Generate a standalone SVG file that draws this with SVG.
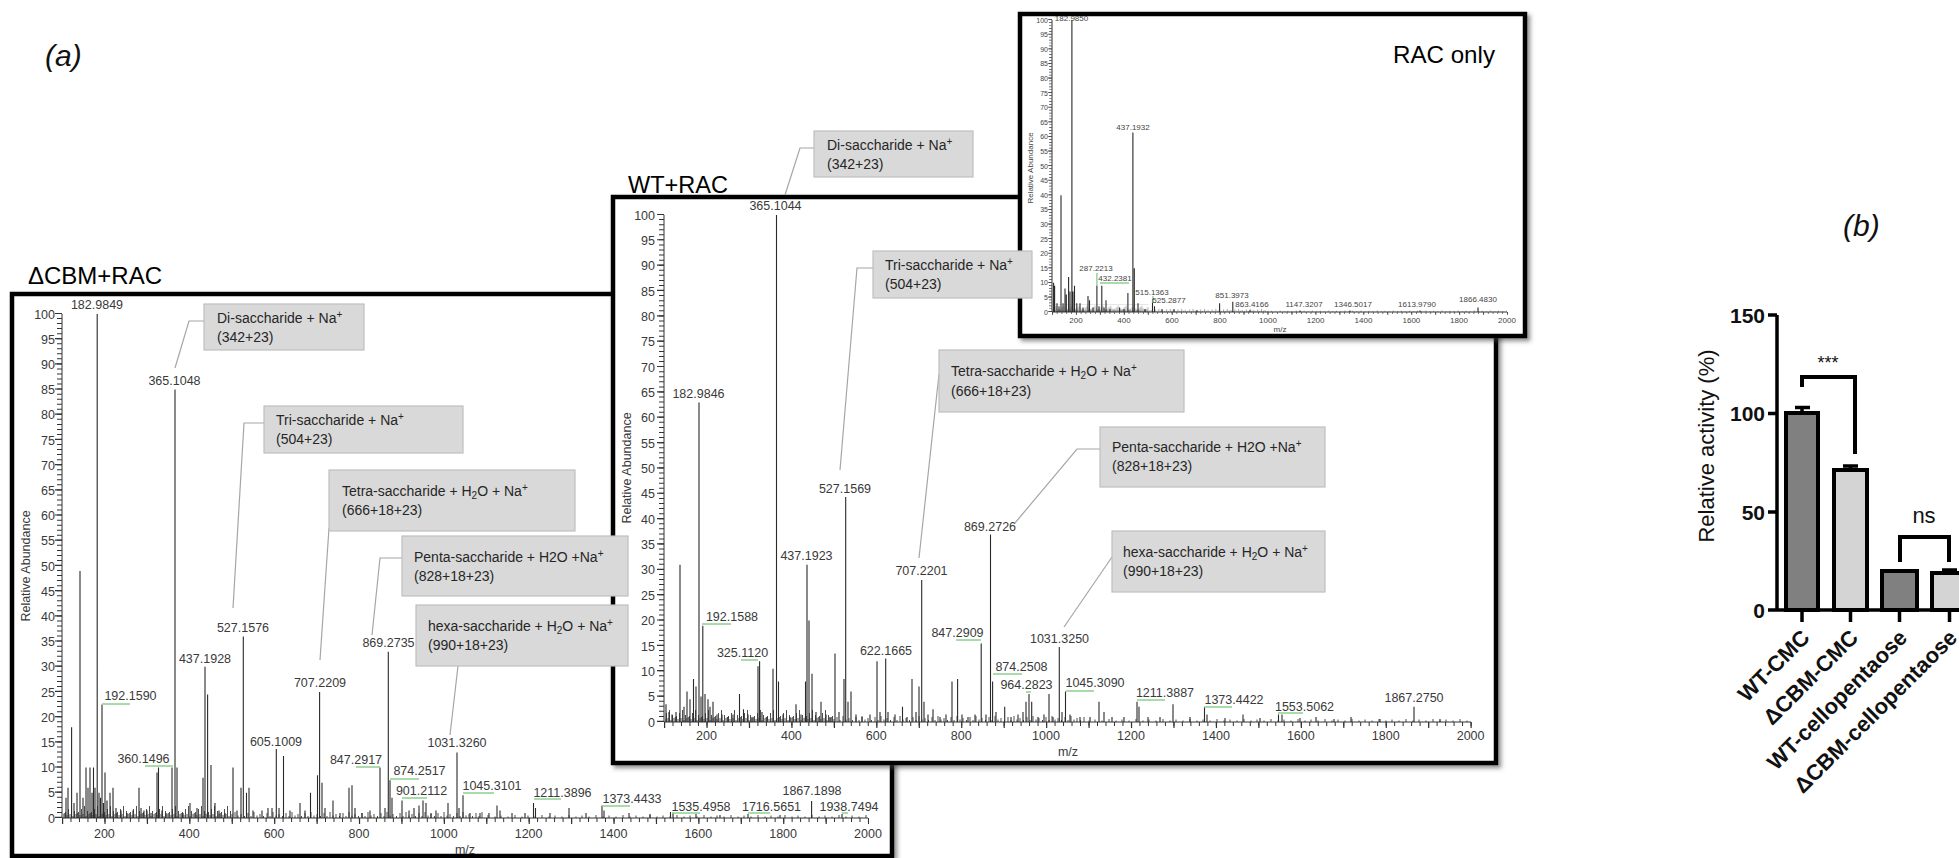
<svg xmlns="http://www.w3.org/2000/svg" width="1959" height="858" viewBox="0 0 1959 858">
<defs>
<style>
text{font-family:"Liberation Sans",Arial,sans-serif}
.lbl{font-size:12.5px;fill:#3a3a3a;text-anchor:middle}
.tk{font-size:12.5px;fill:#3a3a3a;text-anchor:end}
.xt{font-size:12.5px;fill:#3a3a3a;text-anchor:middle}
.s7{font-size:7px;fill:#444;text-anchor:end}
.s8{font-size:8px;fill:#444;text-anchor:middle}
.head{font-size:24px;fill:#000}
.frame{fill:#fff;stroke:#000;stroke-width:4.5}
.spec{stroke:#2a2a2a;stroke-width:1.1;fill:none}
.ax{stroke:#333;stroke-width:1;fill:none}
.grn{stroke:#8fd08f;stroke-width:1.4;fill:none}
.lead{stroke:#a6a6a6;stroke-width:1.2;fill:none}
.co rect{fill:#d9d9d9;stroke:#bfbfbf;stroke-width:1.2}
.co text{font-size:14px;fill:#262626}
.sb{font-size:10px}
.bar{stroke:#000;stroke-width:4}
.bk{stroke:#000;stroke-width:3.5;fill:none}
.bt{font-size:21px;font-weight:bold;fill:#111;text-anchor:end}
.bc{font-size:22px;font-weight:bold;fill:#111;text-anchor:end}
</style>
<filter id="sh" x="-5%" y="-5%" width="110%" height="110%">
<feDropShadow dx="3" dy="3" stdDeviation="2" flood-color="#444" flood-opacity="0.6"/>
</filter>
<pattern id="nA" x="0" y="0" width="13" height="15" patternUnits="userSpaceOnUse">
<path d="M0.5 15v-6M2 15v-3M3.5 15v-9M5 15v-4M6.5 15v-12M8 15v-2M9.5 15v-7M11 15v-4M12.3 15v-5" stroke="#222" stroke-width="0.8"/>
</pattern>
<pattern id="nB" x="0" y="0" width="19" height="15" patternUnits="userSpaceOnUse">
<path d="M1 15v-5M4 15v-2M7 15v-6M10 15v-2.5M13 15v-4M16.5 15v-2" stroke="#222" stroke-width="0.8"/>
</pattern>
<pattern id="nC" x="0" y="0" width="27" height="15" patternUnits="userSpaceOnUse">
<path d="M2 15v-3M9 15v-1.5M15 15v-2.5M22 15v-1.5" stroke="#222" stroke-width="0.8"/>
</pattern>
</defs>
<rect width="1959" height="858" fill="#fff"/>
<text x="45" y="66" font-size="30" font-style="italic" fill="#111">(a)</text>

<g id="panel-dcbm">
<text class="head" x="28" y="284" textLength="134" lengthAdjust="spacingAndGlyphs">ΔCBM+RAC</text>
<rect class="frame" x="12" y="294" width="880" height="562" filter="url(#sh)"/>
<line class="ax" x1="62" y1="314" x2="62" y2="818"/>
<line class="ax" x1="62" y1="818" x2="868" y2="818"/>
<line x1="59.5" y1="818" x2="59.5" y2="313" stroke="#333" stroke-width="5" stroke-dasharray="1 4.04"/>
<line x1="58.5" y1="818" x2="58.5" y2="313" stroke="#333" stroke-width="7" stroke-dasharray="1.2 24"/>
<line x1="62" y1="820" x2="869" y2="820" stroke="#333" stroke-width="4" stroke-dasharray="1 7.484"/>
<line x1="62" y1="821" x2="869" y2="821" stroke="#333" stroke-width="6" stroke-dasharray="1.2 41.22"/>
<g transform="translate(0,803)">
<rect x="63" y="0" width="170" height="15" fill="url(#nA)"/>
<rect x="233" y="3" width="250" height="12" fill="url(#nB)"/>
<rect x="483" y="6" width="385" height="9" fill="url(#nC)"/>
</g>
<path class="spec" d="M66 818V797.8M68 818V787.8M71.6 818V727.3M74 818V802.9M77 818V792.8M80 818V571M83 818V797.8M86 818V767.6M88 818V787.8M90 818V767.6M92 818V792.8M93.5 818V767.6M95 818V787.8M97.2 818V314M99 818V792.8M100.5 818V797.8M102 818V704.6M103.5 818V802.9M105 818V772.6M107 818V800.4M110 818V792.8M113 818V787.8M116 818V807.9M121 818V810.4M127 818V813M133 818V810.4M139 818V787.8M141 818V807.9M144 818V810.4M147 818V810.4M151 818V813M157 818V772.6M158.5 818V767.6M162 818V810.4M166 818V813M172 818V767.6M175 818V389.6M177 818V767.6M183 818V813M190 818V802.9M197 818V807.9M203 818V777.7M205 818V666.8M207.6 818V694.5M211 818V765.1M215 818V802.9M219 818V810.4M225 818V813M233 818V767.6M237 818V810.4M241 818V787.8M243.3 818V636.6M246.5 818V792.8M249 818V787.8M253 818V810.4M262 818V810.4M268 818V807.9M272 818V807.9M276.3 818V749M279 818V807.9M283.5 818V756M290 818V810.4M300 818V802.9M305 818V810.4M310.5 818V792.8M317.5 818V775.2M319.6 818V692M322 818V782.7M325 818V807.9M333 818V800.4M340 818V813M349 818V787.8M352 818V785.2M355 818V807.9M362 818V813M370 818V810.4M380 818V767.6M385 818V807.9M388.3 818V651.7M390 818V780.2M392 818V797.8M402 818V800.4M409 818V810.4M414 818V807.9M419 818V805.4M423 818V800.4M426 818V802.9M431 818V813M436 818V810.4M448 818V802.9M457 818V752.5M459 818V807.9M463 818V795.3M470 818V813M480 818V813M489 818V813M497 818V805.4M500 818V810.4M512 818V813M525 818V813M533.5 818V802.9M535.5 818V807.9M550 818V813M569 818V807.9M586 818V813M602 818V805.4M604 818V810.4M629 818V813M650 818V814M670.5 818V812M673 818V813M696 818V814M720 818V815M748 818V814M780 818V815M811.6 818V800.9M842 818V814"/>
<path class="grn" d="M102 704H130M145 766H173M356 767H380M390 779H419M402 798H427M463 793H494M534 799H561M602 806H630M672 813H700M748 813H770M842 813H848"/>
<text class="tk" x="55" y="822.5">0</text><text class="tk" x="55" y="797.3">5</text><text class="tk" x="55" y="772.1">10</text><text class="tk" x="55" y="746.9">15</text><text class="tk" x="55" y="721.7">20</text><text class="tk" x="55" y="696.5">25</text><text class="tk" x="55" y="671.3">30</text><text class="tk" x="55" y="646.1">35</text><text class="tk" x="55" y="620.9">40</text><text class="tk" x="55" y="595.7">45</text><text class="tk" x="55" y="570.5">50</text><text class="tk" x="55" y="545.3">55</text><text class="tk" x="55" y="520.1">60</text><text class="tk" x="55" y="494.9">65</text><text class="tk" x="55" y="469.7">70</text><text class="tk" x="55" y="444.5">75</text><text class="tk" x="55" y="419.3">80</text><text class="tk" x="55" y="394.1">85</text><text class="tk" x="55" y="368.9">90</text><text class="tk" x="55" y="343.7">95</text><text class="tk" x="55" y="318.5">100</text>
<text class="xt" x="104.4" y="838">200</text><text class="xt" x="189.3" y="838">400</text><text class="xt" x="274.1" y="838">600</text><text class="xt" x="359" y="838">800</text><text class="xt" x="443.8" y="838">1000</text><text class="xt" x="528.6" y="838">1200</text><text class="xt" x="613.5" y="838">1400</text><text class="xt" x="698.3" y="838">1600</text><text class="xt" x="783.1" y="838">1800</text><text class="xt" x="868" y="838">2000</text>
<text class="xt" x="465" y="854">m/z</text>
<text class="xt" transform="translate(30,566) rotate(-90)">Relative Abundance</text>
<text class="lbl" x="97" y="309">182.9849</text>
<text class="lbl" x="174.5" y="385">365.1048</text>
<text class="lbl" x="130.5" y="700">192.1590</text>
<text class="lbl" x="143.5" y="763">360.1496</text>
<text class="lbl" x="205" y="663">437.1928</text>
<text class="lbl" x="243" y="632">527.1576</text>
<text class="lbl" x="276" y="746">605.1009</text>
<text class="lbl" x="320" y="687">707.2209</text>
<text class="lbl" x="388.5" y="647">869.2735</text>
<text class="lbl" x="356" y="764">847.2917</text>
<text class="lbl" x="419.5" y="775">874.2517</text>
<text class="lbl" x="421.5" y="795">901.2112</text>
<text class="lbl" x="457" y="747">1031.3260</text>
<text class="lbl" x="492" y="790">1045.3101</text>
<text class="lbl" x="562.5" y="797">1211.3896</text>
<text class="lbl" x="632" y="803">1373.4433</text>
<text class="lbl" x="701" y="811">1535.4958</text>
<text class="lbl" x="771.5" y="811">1716.5651</text>
<text class="lbl" x="812" y="795">1867.1898</text>
<text class="lbl" x="849" y="811">1938.7494</text>
</g>

<g id="panel-wt">
<text class="head" x="628" y="193" textLength="100" lengthAdjust="spacingAndGlyphs">WT+RAC</text>
<rect class="frame" x="613" y="197" width="883" height="566" filter="url(#sh)"/>
<line class="ax" x1="664" y1="215" x2="664" y2="722"/>
<line class="ax" x1="664" y1="722" x2="1471" y2="722"/>
<line x1="661.5" y1="722" x2="661.5" y2="214" stroke="#333" stroke-width="5" stroke-dasharray="1 4.07"/>
<line x1="660.5" y1="722" x2="660.5" y2="214" stroke="#333" stroke-width="7" stroke-dasharray="1.2 24.15"/>
<line x1="664" y1="724" x2="1472" y2="724" stroke="#333" stroke-width="4" stroke-dasharray="1 7.49"/>
<line x1="664" y1="725" x2="1472" y2="725" stroke="#333" stroke-width="6" stroke-dasharray="1.2 41.25"/>
<g transform="translate(0,707)">
<rect x="665" y="0" width="170" height="15" fill="url(#nA)"/>
<rect x="835" y="3" width="250" height="12" fill="url(#nB)"/>
<rect x="1085" y="6" width="386" height="9" fill="url(#nC)"/>
</g>
<path class="spec" d="M666 722V704.3M669 722V711.9M672 722V714.4M676 722V711.9M680 722V564.8M684 722V706.8M687 722V691.6M690 722V699.2M693.5 722V678.9M696 722V686.5M699 722V402.6M701 722V696.6M702.8 722V625.7M705 722V694.1M708 722V699.2M710 722V706.8M713 722V701.7M717 722V714.4M722 722V714.4M728 722V717M733 722V714.4M739.5 722V694.1M743.5 722V709.3M748 722V714.4M752 722V717M758 722V666.2M759.6 722V661.2M762 722V711.9M767 722V717M773 722V668.8M776.5 722V215M778.5 722V681.4M783 722V714.4M790 722V717M796 722V704.3M801 722V714.4M805.5 722V681.4M807 722V564.8M809 722V620.6M812 722V673.8M816 722V711.9M821 722V701.7M826 722V714.4M830 722V717M835 722V653.6M839 722V711.9M844 722V678.9M845.7 722V496.9M848 722V701.7M851 722V691.6M856 722V714.4M862 722V717M870 722V714.4M877 722V661.2M880 722V711.9M885.7 722V658.6M888 722V711.9M895 722V714.4M902.5 722V706.8M907 722V717M912 722V678.9M916 722V711.9M919 722V686.5M921.7 722V580M924 722V701.7M928 722V714.4M933 722V709.3M940 722V717M946 722V714.4M952 722V681.4M957.6 722V678.9M962 722V714.4M968 722V717M975 722V714.4M981.2 722V643.4M986 722V714.4M990.5 722V534.4M992.6 722V681.4M996 722V711.9M1004.7 722V706.8M1011 722V717M1018 722V714.4M1023 722V711.9M1026 722V701.7M1029 722V694.1M1031.7 722V701.7M1038 722V717M1044 722V714.4M1049 722V694.1M1053 722V717M1059.3 722V647M1062 722V711.9M1065.5 722V691.6M1070 722V714.4M1080 722V717M1090 722V717M1099 722V701.7M1104 722V711.9M1112 722V717M1124 722V717M1137 722V701.7M1139 722V706.8M1148 722V717M1160 722V717M1173 722V704.3M1190 722V717M1204.5 722V706.8M1207 722V714.4M1225 722V718M1243 722V714.4M1260 722V718M1278.5 722V714.4M1282 722V714.4M1300 722V718M1316 722V717M1334 722V719M1351 722V717M1380 722V719M1414 722V706.8M1440 722V719"/>
<path class="grn" d="M702 624H731M741 660H758M956 640H981M993 674H1022M1026 692H1031M1066 691H1094M1137 700H1165M1204 707H1232M1278 713H1303"/>
<text class="tk" x="655" y="726.5">0</text><text class="tk" x="655" y="701.2">5</text><text class="tk" x="655" y="675.8">10</text><text class="tk" x="655" y="650.5">15</text><text class="tk" x="655" y="625.1">20</text><text class="tk" x="655" y="599.8">25</text><text class="tk" x="655" y="574.4">30</text><text class="tk" x="655" y="549.1">35</text><text class="tk" x="655" y="523.7">40</text><text class="tk" x="655" y="498.4">45</text><text class="tk" x="655" y="473">50</text><text class="tk" x="655" y="447.7">55</text><text class="tk" x="655" y="422.3">60</text><text class="tk" x="655" y="397">65</text><text class="tk" x="655" y="371.6">70</text><text class="tk" x="655" y="346.3">75</text><text class="tk" x="655" y="320.9">80</text><text class="tk" x="655" y="295.6">85</text><text class="tk" x="655" y="270.2">90</text><text class="tk" x="655" y="244.9">95</text><text class="tk" x="655" y="219.5">100</text>
<text class="xt" x="706.5" y="740">200</text><text class="xt" x="791.4" y="740">400</text><text class="xt" x="876.3" y="740">600</text><text class="xt" x="961.2" y="740">800</text><text class="xt" x="1046" y="740">1000</text><text class="xt" x="1131" y="740">1200</text><text class="xt" x="1216" y="740">1400</text><text class="xt" x="1300.8" y="740">1600</text><text class="xt" x="1385.7" y="740">1800</text><text class="xt" x="1470.6" y="740">2000</text>
<text class="xt" x="1068" y="756">m/z</text>
<text class="xt" transform="translate(631,468) rotate(-90)">Relative Abundance</text>
<text class="lbl" x="775.5" y="210">365.1044</text>
<text class="lbl" x="698.5" y="398">182.9846</text>
<text class="lbl" x="845" y="493">527.1569</text>
<text class="lbl" x="990" y="531">869.2726</text>
<text class="lbl" x="806.5" y="560">437.1923</text>
<text class="lbl" x="921.5" y="575">707.2201</text>
<text class="lbl" x="732" y="621">192.1588</text>
<text class="lbl" x="742.5" y="657">325.1120</text>
<text class="lbl" x="886" y="655">622.1665</text>
<text class="lbl" x="957.5" y="637">847.2909</text>
<text class="lbl" x="1059.5" y="643">1031.3250</text>
<text class="lbl" x="1021.5" y="671">874.2508</text>
<text class="lbl" x="1026.5" y="689">964.2823</text>
<text class="lbl" x="1095" y="687">1045.3090</text>
<text class="lbl" x="1165" y="697">1211.3887</text>
<text class="lbl" x="1234" y="704">1373.4422</text>
<text class="lbl" x="1304.5" y="711">1553.5062</text>
<text class="lbl" x="1414" y="702">1867.2750</text>
</g>

<g id="panel-rac">
<rect class="frame" x="1020" y="14" width="505" height="322" filter="url(#sh)"/>
<text class="head" x="1393" y="63" textLength="102" lengthAdjust="spacingAndGlyphs">RAC only</text>
<line class="ax" x1="1052" y1="20" x2="1052" y2="312" stroke-width="0.8"/>
<line class="ax" x1="1052" y1="312" x2="1507" y2="312" stroke-width="0.8"/>
<line x1="1050.5" y1="312" x2="1050.5" y2="19" stroke="#444" stroke-width="3" stroke-dasharray="0.7 2.22"/>
<line x1="1050" y1="312" x2="1050" y2="19" stroke="#444" stroke-width="4" stroke-dasharray="0.8 13.8"/>
<line x1="1052" y1="313" x2="1508" y2="313" stroke="#444" stroke-width="2" stroke-dasharray="0.7 4.09"/>
<line x1="1052" y1="313.5" x2="1508" y2="313.5" stroke="#444" stroke-width="3" stroke-dasharray="0.8 23.16"/>
<g transform="translate(1052,312) scale(0.6,0.5)">
<rect x="1" y="-15" width="160" height="15" fill="url(#nA)"/>
<rect x="161" y="-12" width="200" height="12" fill="url(#nB)"/>
<rect x="361" y="-9" width="397" height="9" fill="url(#nC)"/>
</g>
<path class="spec" stroke-width="0.9" d="M1053.6 312V282.8M1054.6 312V285.7M1057 312V303.2M1059 312V306.2M1061 312V195.2M1063 312V303.2M1065 312V288.6M1066.3 312V294.5M1068.6 312V277M1070 312V291.6M1071.9 312V20M1073 312V291.6M1074.5 312V285.7M1076.8 312V303.2M1080 312V303.2M1083 312V307.6M1088 312V296M1089.5 312V300.3M1093 312V307.6M1096.9 312V285.7M1099 312V306.2M1101.8 312V285.7M1104 312V307.6M1106 312V300.3M1110 312V309.1M1119.6 312V307.6M1124 312V309.1M1127.9 312V293M1132.9 312V132.4M1134.3 312V268.2M1138 312V303.2M1145 312V309.1M1152.5 312V298.9M1154.5 312V306.2M1162 312V309.1M1174 312V309.1M1197 312V310.2M1219.6 312V303.2M1232.8 312V301.8M1250 312V310.2M1300 312V310.5M1350 312V310.5M1420 312V310.5M1478 312V307.6"/>
<path class="grn" stroke-width="0.9" d="M1096.9 273V286M1100 283H1129M1153 296V303"/>
<text class="s7" x="1048" y="314.5">0</text><text class="s7" x="1048" y="299.9">5</text><text class="s7" x="1048" y="285.3">10</text><text class="s7" x="1048" y="270.7">15</text><text class="s7" x="1048" y="256.1">20</text><text class="s7" x="1048" y="241.5">25</text><text class="s7" x="1048" y="226.9">30</text><text class="s7" x="1048" y="212.3">35</text><text class="s7" x="1048" y="197.7">40</text><text class="s7" x="1048" y="183.1">45</text><text class="s7" x="1048" y="168.5">50</text><text class="s7" x="1048" y="153.9">55</text><text class="s7" x="1048" y="139.3">60</text><text class="s7" x="1048" y="124.7">65</text><text class="s7" x="1048" y="110.1">70</text><text class="s7" x="1048" y="95.5">75</text><text class="s7" x="1048" y="80.9">80</text><text class="s7" x="1048" y="66.3">85</text><text class="s7" x="1048" y="51.7">90</text><text class="s7" x="1048" y="37.1">95</text><text class="s7" x="1048" y="22.5">100</text>
<text class="s8" x="1076" y="323">200</text><text class="s8" x="1124" y="323">400</text><text class="s8" x="1172" y="323">600</text><text class="s8" x="1220" y="323">800</text><text class="s8" x="1268" y="323">1000</text><text class="s8" x="1315.6" y="323">1200</text><text class="s8" x="1363.5" y="323">1400</text><text class="s8" x="1411.4" y="323">1600</text><text class="s8" x="1459" y="323">1800</text><text class="s8" x="1507" y="323">2000</text>
<text class="s8" x="1280" y="332" font-size="7">m/z</text>
<text class="s8" font-size="7" transform="translate(1033,168) rotate(-90)">Relative Abundance</text>
<text class="s8" x="1071.5" y="21">182.9850</text>
<text class="s8" x="1133" y="130">437.1932</text>
<text class="s8" x="1096" y="271">287.2213</text>
<text class="s8" x="1115" y="281">432.2381</text>
<text class="s8" x="1152" y="295">515.1363</text>
<text class="s8" x="1169" y="303">525.2877</text>
<text class="s8" x="1232" y="298">851.3973</text>
<text class="s8" x="1252" y="307">863.4166</text>
<text class="s8" x="1304" y="307">1147.3207</text>
<text class="s8" x="1353" y="307">1346.5017</text>
<text class="s8" x="1417" y="307">1613.9790</text>
<text class="s8" x="1478" y="302">1866.4830</text>
</g>

<g id="connectors">
<path class="lead" d="M204 321H189L175 368"/>
<path class="lead" d="M264 423H244L233 608"/>
<path class="lead" d="M329 528L320 660"/>
<path class="lead" d="M402 558H380L372 635"/>
<path class="lead" d="M458 666L450 735"/>
<path class="lead" d="M814 148H800L785 195"/>
<path class="lead" d="M873 268H857L840 470"/>
<path class="lead" d="M939 374L919 558"/>
<path class="lead" d="M1100 449H1077L1015 523"/>
<path class="lead" d="M1112 557L1064 627"/>
</g>

<g id="callout-dcbm-di" class="co"><rect x="204" y="304" width="160" height="46"/><text x="217" y="323">Di-saccharide + Na<tspan class="sb" dy="-5">+</tspan></text><text x="217" y="342">(342+23)</text></g>
<g id="callout-dcbm-tri" class="co"><rect x="264" y="406" width="199" height="47"/><text x="276" y="425">Tri-saccharide + Na<tspan class="sb" dy="-5">+</tspan></text><text x="276" y="444">(504+23)</text></g>
<g id="callout-dcbm-tetra" class="co"><rect x="329" y="470" width="246" height="61"/><text x="342" y="496">Tetra-saccharide + H<tspan class="sb" dy="3">2</tspan><tspan dy="-3">O + Na</tspan><tspan class="sb" dy="-5">+</tspan></text><text x="342" y="515">(666+18+23)</text></g>
<g id="callout-dcbm-penta" class="co"><rect x="402" y="536" width="226" height="60"/><text x="414" y="562">Penta-saccharide + H2O +Na<tspan class="sb" dy="-5">+</tspan></text><text x="414" y="581">(828+18+23)</text></g>
<g id="callout-dcbm-hexa" class="co"><rect x="416" y="605" width="212" height="61"/><text x="428" y="631">hexa-saccharide + H<tspan class="sb" dy="3">2</tspan><tspan dy="-3">O + Na</tspan><tspan class="sb" dy="-5">+</tspan></text><text x="428" y="650">(990+18+23)</text></g>

<g id="callout-wt-di" class="co"><rect x="814" y="131" width="159" height="46"/><text x="827" y="150">Di-saccharide + Na<tspan class="sb" dy="-5">+</tspan></text><text x="827" y="169">(342+23)</text></g>
<g id="callout-wt-tri" class="co"><rect x="873" y="251" width="159" height="47"/><text x="885" y="270">Tri-saccharide + Na<tspan class="sb" dy="-5">+</tspan></text><text x="885" y="289">(504+23)</text></g>
<g id="callout-wt-tetra" class="co"><rect x="939" y="350" width="245" height="62"/><text x="951" y="376">Tetra-saccharide + H<tspan class="sb" dy="3">2</tspan><tspan dy="-3">O + Na</tspan><tspan class="sb" dy="-5">+</tspan></text><text x="951" y="396">(666+18+23)</text></g>
<g id="callout-wt-penta" class="co"><rect x="1100" y="427" width="225" height="60"/><text x="1112" y="452">Penta-saccharide + H2O +Na<tspan class="sb" dy="-5">+</tspan></text><text x="1112" y="471">(828+18+23)</text></g>
<g id="callout-wt-hexa" class="co"><rect x="1112" y="531" width="213" height="61"/><text x="1123" y="557">hexa-saccharide + H<tspan class="sb" dy="3">2</tspan><tspan dy="-3">O + Na</tspan><tspan class="sb" dy="-5">+</tspan></text><text x="1123" y="576">(990+18+23)</text></g>

<g id="panel-b">
<text x="1843" y="236" font-size="30" font-style="italic" fill="#111">(b)</text>
<text font-size="22" fill="#111" text-anchor="middle" transform="translate(1714,446) rotate(-90)">Relative activity (%)</text>
<rect class="bar" x="1786" y="413" width="32" height="197" fill="#808080"/>
<rect class="bar" x="1834" y="470" width="33" height="140" fill="#d4d4d4"/>
<rect class="bar" x="1882" y="571" width="35" height="39" fill="#808080"/>
<rect class="bar" x="1932" y="573" width="35" height="37" fill="#d4d4d4"/>
<path class="bk" d="M1802 413V407.5M1795 407.5H1810M1850.5 470V466M1843 466H1858M1949.5 573V570M1942 570H1957"/>
<path class="bk" d="M1777 315V610H1959M1768 315H1777M1768 413.5H1777M1768 512H1777M1768 610H1777M1802 610V622M1850.5 610V622M1899.5 610V622M1949.5 610V622"/>
<text class="bt" x="1765" y="322.5">150</text>
<text class="bt" x="1765" y="421">100</text>
<text class="bt" x="1765" y="519.5">50</text>
<text class="bt" x="1765" y="617.5">0</text>
<path d="M1802 387V377H1855V454" stroke="#000" stroke-width="4" fill="none"/>
<text x="1828" y="369" font-size="18" text-anchor="middle" fill="#111">***</text>
<path d="M1900 562V537H1949V562" stroke="#000" stroke-width="4" fill="none"/>
<text x="1924" y="523" font-size="22" text-anchor="middle" fill="#111">ns</text>
<text class="bc" transform="translate(1811,639) rotate(-45)">WT-CMC</text>
<text class="bc" transform="translate(1859.5,639) rotate(-45)">ΔCBM-CMC</text>
<text class="bc" transform="translate(1908.5,639) rotate(-45)">WT-cellopentaose</text>
<text class="bc" transform="translate(1958.5,639) rotate(-45)">ΔCBM-cellopentaose</text>
</g>
</svg>
